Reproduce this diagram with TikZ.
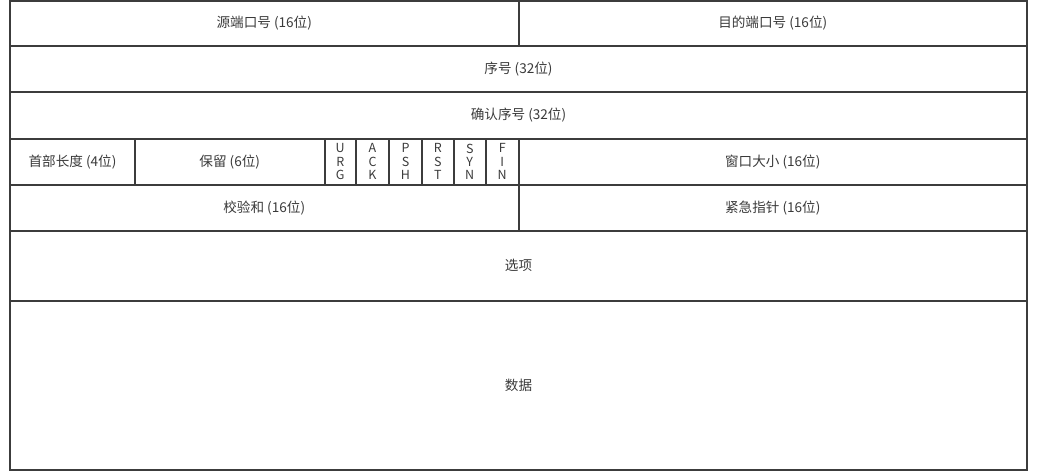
\documentclass[tikz,border=0pt]{standalone}
\usepackage{fontspec}
\setmainfont{Noto Sans CJK SC}
\definecolor{linec}{HTML}{3C3C3C}
\definecolor{textc}{HTML}{3A3A3A}
\tikzset{
  cell/.style={draw=linec, line width=2pt, inner sep=0pt, outer sep=0pt},
  lbl/.style={text=textc, font=\fontsize{13.6}{15}\selectfont, inner sep=0pt},
  flag/.style={text=textc, font=\fontsize{12.5}{13.4}\selectfont, inner sep=0pt, align=center},
}
\begin{document}
\begin{tikzpicture}[x=1pt,y=-1pt]
\useasboundingbox (0,0) rectangle (1037,474);
% row 1
\draw[cell] (10,0.8) rectangle (518.5,46) node[lbl, midway] (src) {源端口号 (16位)};
\draw[cell] (518.5,0.8) rectangle (1027,46) node[lbl, midway] (dst) {目的端口号 (16位)};
% row 2
\draw[cell] (10,46) rectangle (1027,92) node[lbl, midway] (seq) {序号 (32位)};
% row 3
\draw[cell] (10,92) rectangle (1027,138.5) node[lbl, midway] (ack) {确认序号 (32位)};
% row 4
\draw[cell] (10,138.5) rectangle (135,185) node[lbl, midway] (hlen) {首部长度 (4位)};
\draw[cell] (135,138.5) rectangle (324.5,185) node[lbl, midway] (res) {保留 (6位)};
\draw[cell] (324.5,138.5) rectangle (356,185) node[flag, midway] (urg) {U\\R\\G};
\draw[cell] (356,138.5) rectangle (389,185) node[flag, midway] (fack) {A\\C\\K};
\draw[cell] (389,138.5) rectangle (422,185) node[flag, midway] (psh) {P\\S\\H};
\draw[cell] (422,138.5) rectangle (453.5,185) node[flag, midway] (rst) {R\\S\\T};
\draw[cell] (453.5,138.5) rectangle (486,185) node[flag, midway] (syn) {S\\Y\\N};
\draw[cell] (486,138.5) rectangle (518.5,185) node[flag, midway] (fin) {F\\I\\N};
\draw[cell] (518.5,138.5) rectangle (1027,185) node[lbl, midway] (win) {窗口大小 (16位)};
% row 5
\draw[cell] (10,185) rectangle (518.5,231) node[lbl, midway] (chk) {校验和 (16位)};
\draw[cell] (518.5,185) rectangle (1027,231) node[lbl, midway] (urgp) {紧急指针 (16位)};
% row 6
\draw[cell] (10,231) rectangle (1027,300.5) node[lbl, midway] (opt) {选项};
% row 7
\draw[cell] (10,300.5) rectangle (1027,470) node[lbl, midway] (data) {数据};
\end{tikzpicture}
\end{document}
